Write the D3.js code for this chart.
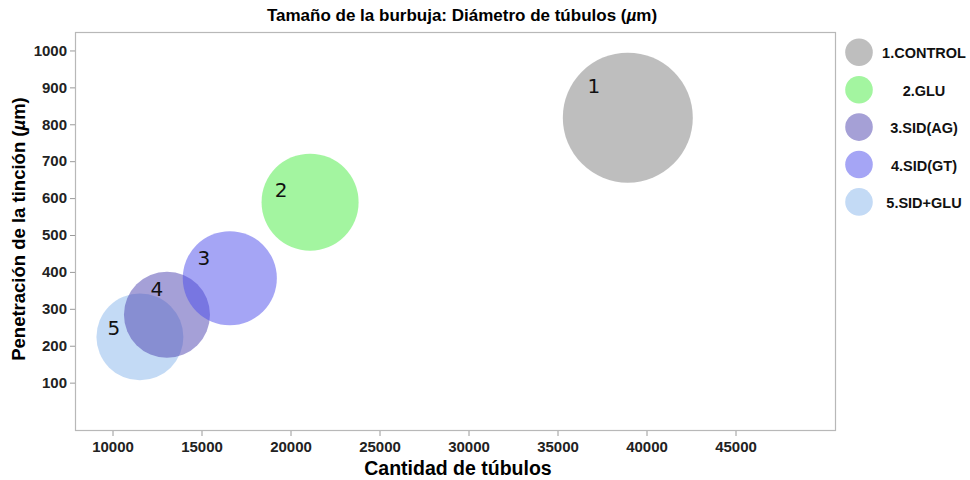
<!DOCTYPE html>
<html>
<head>
<meta charset="utf-8">
<script src="https://cdn.jsdelivr.net/npm/d3@7"></script>
<style>
  html, body { margin: 0; padding: 0; background: #fff; }
  svg { display: block; }
</style>
</head>
<body>
<svg id="chart" width="970" height="480"></svg>
<script>
// Groups and their measurements
const groups = ["1.CONTROL", "2.GLU", "3.SID(AG)", "4.SID(GT)", "5.SID+GLU"];
const pointLabels = ["1", "2", "3", "4", "5"];
const tubuleCount = [38950, 21100, 16590, 13060, 11540];   // Cantidad de túbulos
const stainDepth = [818, 589, 383, 284, 224];               // Penetración de la tinción (µm)
const tubuleDiameter = [4.2, 2.34, 2.2, 1.84, 1.88];       // Diámetro de túbulos (µm), bubble size
const xTicks = [10000, 15000, 20000, 25000, 30000, 35000, 40000, 45000];
const yTicks = [100, 200, 300, 400, 500, 600, 700, 800, 900, 1000];

// Bubble fills, drawn at half opacity so overlaps darken
const fillColors = ["#7d7d7d", "#47eb41", "#4b4beb", "#4b41af", "#87b5eb"];
const legendColors = ["#bebebe", "#a3f5a0", "#a5a0d6", "#a5a5f5", "#c3daf5"];
// Label placement relative to each bubble centre (px)
const labelOffsets = [[-34, -32], [-29, -12], [-26, -20], [-10, -26], [-26, -9]];

const svg = d3.select("#chart");
const plot = { left: 75, top: 32, right: 836, bottom: 431 };

const x = d3.scaleLinear().domain([7893, 50646]).range([plot.left, plot.right]);
const y = d3.scaleLinear().domain([-31, 1050]).range([plot.bottom, plot.top]);
const r = d3.scaleSqrt().domain([0, 4.2]).range([0, 65]);

const sans = "'Liberation Sans', Arial, sans-serif";

// Plot frame
svg.append("rect")
  .attr("x", plot.left + 0.5).attr("y", plot.top + 0.5)
  .attr("width", plot.right - plot.left - 1).attr("height", plot.bottom - plot.top - 1)
  .attr("fill", "#fff").attr("stroke", "#b8b8b8").attr("stroke-width", 1.2);

// Axes
const xAxis = svg.append("g")
  .attr("transform", `translate(0,${plot.bottom})`)
  .call(d3.axisBottom(x).tickValues(xTicks).tickFormat(d3.format("d")).tickSize(5).tickPadding(5));
const yAxis = svg.append("g")
  .attr("transform", `translate(${plot.left},0)`)
  .call(d3.axisLeft(y).tickValues(yTicks).tickFormat(d3.format("d")).tickSize(5).tickPadding(3));

[xAxis, yAxis].forEach(a => {
  a.select(".domain").remove();
  a.selectAll(".tick line").attr("stroke", "#9a9a9a");
  a.selectAll(".tick text")
    .attr("fill", "#222")
    .style("font-family", sans)
    .style("font-size", "15px")
    .style("font-weight", "bold");
});

// Bubbles: drawn from last group to first so earlier groups sit on top
const order = d3.range(groups.length).reverse();
const plotArea = svg.append("g");
plotArea.selectAll("circle.bubble")
  .data(order)
  .join("circle")
  .attr("class", "bubble")
  .attr("cx", i => x(tubuleCount[i]))
  .attr("cy", i => y(stainDepth[i]))
  .attr("r", i => r(tubuleDiameter[i]))
  .attr("fill", i => fillColors[i])
  .attr("fill-opacity", 0.5);

plotArea.selectAll("text.point-label")
  .data(order)
  .join("text")
  .attr("class", "point-label")
  .attr("x", i => x(tubuleCount[i]) + labelOffsets[i][0])
  .attr("y", i => y(stainDepth[i]) + labelOffsets[i][1])
  .attr("text-anchor", "middle")
  .attr("dominant-baseline", "central")
  .style("font-family", "'DejaVu Sans', sans-serif")
  .style("font-size", "20px")
  .attr("fill", "#111")
  .text(i => pointLabels[i]);

// Title and axis titles
function withItalicMu(sel, before, after) {
  sel.append("tspan").text(before);
  sel.append("tspan").style("font-style", "italic").text("µ");
  sel.append("tspan").text(after);
}

const title = svg.append("text")
  .attr("x", 462).attr("y", 21)
  .attr("text-anchor", "middle")
  .style("font-family", sans)
  .style("font-size", "17px").style("font-weight", "bold");
withItalicMu(title, "Tamaño de la burbuja: Diámetro de túbulos (", "m)");

svg.append("text")
  .attr("x", 458).attr("y", 475)
  .attr("text-anchor", "middle")
  .style("font-family", sans)
  .style("font-size", "19.5px").style("font-weight", "bold")
  .text("Cantidad de túbulos");

const yTitle = svg.append("text")
  .attr("transform", `translate(25,229) rotate(-90)`)
  .attr("text-anchor", "middle")
  .style("font-family", sans)
  .style("font-size", "18.5px").style("font-weight", "bold");
withItalicMu(yTitle, "Penetración de la tinción (", "m)");

// Legend
const legend = svg.append("g").attr("transform", "translate(0,52.3)");
const rows = legend.selectAll("g")
  .data(d3.range(groups.length))
  .join("g")
  .attr("transform", i => `translate(0,${i * 37.4})`);
rows.append("circle")
  .attr("cx", 859).attr("cy", 0).attr("r", 13.8)
  .attr("fill", i => legendColors[i]);
rows.append("text")
  .attr("x", 924).attr("y", 1)
  .attr("text-anchor", "middle")
  .attr("dominant-baseline", "central")
  .style("font-family", sans)
  .style("font-size", "14.5px").style("font-weight", "bold")
  .attr("fill", "#111")
  .text(i => groups[i]);
</script>
</body>
</html>
